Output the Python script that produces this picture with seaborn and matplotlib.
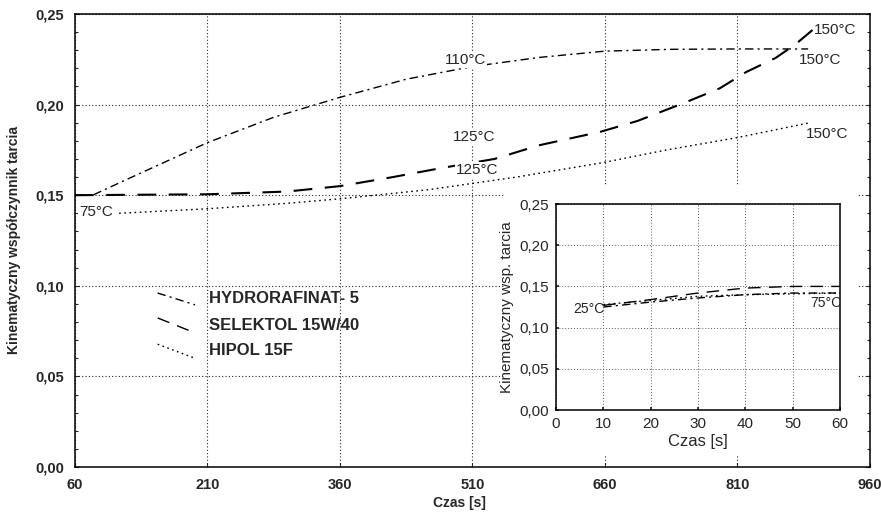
import matplotlib
matplotlib.use('Agg')
import matplotlib.pyplot as plt
import matplotlib.ticker as mticker
from matplotlib.patches import Rectangle
from matplotlib.lines import Line2D
import pandas as pd
import seaborn as sns

# Main chart data (time in s, kinematic friction coefficient)
hydro_t = [60, 80, 120, 165, 210, 285, 360, 435, 510, 585, 660, 735, 810, 890]
hydro_mu = [0.150, 0.150, 0.159, 0.169, 0.179, 0.193, 0.204, 0.214, 0.221, 0.226, 0.2295, 0.2305, 0.2307, 0.2307]

selek_t = [60, 210, 300, 360, 420, 475, 535, 585, 655, 697, 750, 790, 820, 853, 875, 897]
selek_mu = [0.150, 0.1505, 0.152, 0.155, 0.160, 0.165, 0.170, 0.1775, 0.185, 0.191, 0.201, 0.209, 0.218, 0.2257, 0.233, 0.242]

hipol_t = [110, 210, 300, 360, 460, 560, 658, 730, 808, 892]
hipol_mu = [0.140, 0.1425, 0.1455, 0.148, 0.153, 0.160, 0.168, 0.175, 0.1816, 0.190]

# Inset data (first 60 s)
in_t = [10, 20, 30, 40, 50, 60]
in_hydro = [0.125, 0.131, 0.136, 0.140, 0.142, 0.142]
in_selek = [0.127, 0.134, 0.142, 0.148, 0.150, 0.150]
in_hipol = [0.128, 0.133, 0.138, 0.140, 0.141, 0.142]

names = ['HYDRORAFINAT- 5', 'SELEKTOL 15W/40', 'HIPOL 15F']
x_ticks = [60, 210, 360, 510, 660, 810, 960]
y_ticks = [0.00, 0.05, 0.10, 0.15, 0.20, 0.25]
in_x_ticks = [0, 10, 20, 30, 40, 50, 60]

# temperature labels: (text, t, mu)
temp_labels = [('110°C', 502, 0.2246), ('125°C', 512, 0.182), ('125°C', 515, 0.164),
               ('150°C', 921, 0.241), ('150°C', 904, 0.2246), ('150°C', 911, 0.184),
               ('75°C', 84, 0.1407)]

sns.set_theme(style='ticks')
plt.rcParams['font.family'] = ['Liberation Sans', 'DejaVu Sans']

styles = {
    'HYDRORAFINAT- 5': dict(lw=1.0, ls=(0, (6, 3, 1.5, 3))),
    'SELEKTOL 15W/40': dict(lw=1.5, ls=(0, (9, 6))),
    'HIPOL 15F': dict(lw=1.0, ls=(0, (1.2, 2.5))),
}

fig = plt.figure(figsize=(8.81, 5.16), dpi=100)
ax = fig.add_axes([0.0851, 0.0950, 0.9024, 0.8779])

main = {names[0]: (hydro_t, hydro_mu), names[1]: (selek_t, selek_mu), names[2]: (hipol_t, hipol_mu)}
for name, (t, mu) in main.items():
    df = pd.DataFrame({'t': t, 'mu': mu})
    sns.lineplot(data=df, x='t', y='mu', ax=ax, color='black',
                 linewidth=styles[name]['lw'], linestyle=styles[name]['ls'])

ax.set_xlim(60, 960)
ax.set_ylim(0, 0.25)
ax.set_xticks(x_ticks)
ax.set_yticks(y_ticks)
ax.yaxis.set_minor_locator(mticker.MultipleLocator(0.01))
ax.yaxis.set_major_formatter(mticker.FuncFormatter(lambda v, p: f'{v:.2f}'.replace('.', ',')))
ax.grid(True, which='major', color='0.15', linestyle=(0, (1, 2)), linewidth=0.8)
ax.tick_params(which='both', direction='in', right=True, top=False, width=0.8)
ax.tick_params(which='major', length=3, labelsize=10.5, pad=8)
ax.tick_params(which='minor', length=2)
for lbl in ax.get_xticklabels() + ax.get_yticklabels():
    lbl.set_fontweight('bold')
for sp in ax.spines.values():
    sp.set_visible(True)
    sp.set_color('black')
    sp.set_linewidth(1.1)
ax.set_xlabel('')
ax.set_ylabel('Kinematyczny współczynnik tarcia', fontsize=10, fontweight='bold', labelpad=10)
fig.text(0.522, 0.025, 'Czas [s]', ha='center', va='center', fontsize=10, fontweight='bold')

for txt, t, mu in temp_labels:
    ax.text(t, mu, txt, ha='center', va='center', fontsize=11,
            bbox=dict(facecolor='white', edgecolor='none', pad=0.5))

# legend with slanted samples
leg_lines = [((0.104, 0.151), (0.384, 0.358)), ((0.104, 0.151), (0.329, 0.296)),
             ((0.104, 0.151), (0.271, 0.240))]
leg_text_y = [0.371, 0.313, 0.258]
for name, (xs, ys), ty in zip(names, leg_lines, leg_text_y):
    ax.add_line(Line2D(xs, ys, transform=ax.transAxes, color='black',
                       linewidth=1.0, linestyle=styles[name]['ls']))
    ax.text(0.169, ty, name, transform=ax.transAxes, ha='left', va='center',
            fontsize=12, fontweight='bold')

# white area behind inset
fig.add_artist(Rectangle((0.573, 0.118), 0.4007, 0.523, transform=fig.transFigure,
                         facecolor='white', edgecolor='none', zorder=1))

axi = fig.add_axes([0.6311, 0.2054, 0.3224, 0.3992])
axi.set_zorder(2)
inset = {names[0]: in_hydro, names[1]: in_selek, names[2]: in_hipol}
for name, mu in inset.items():
    df = pd.DataFrame({'t': in_t, 'mu': mu})
    sns.lineplot(data=df, x='t', y='mu', ax=axi, color='black',
                 linewidth=1.0, linestyle=styles[name]['ls'])
axi.set_xlim(0, 60)
axi.set_ylim(0, 0.25)
axi.set_xticks(in_x_ticks)
axi.set_yticks(y_ticks)
axi.yaxis.set_major_formatter(mticker.FuncFormatter(lambda v, p: f'{v:.2f}'.replace('.', ',')))
axi.grid(True, color='0.35', linestyle=(0, (1, 2)), linewidth=0.7)
axi.tick_params(direction='in', length=2, labelsize=11, pad=5)
for sp in axi.spines.values():
    sp.set_visible(True)
    sp.set_color('black')
    sp.set_linewidth(1.1)
axi.set_xlabel('Czas [s]', fontsize=12, labelpad=2)
axi.set_ylabel('Kinematyczny wsp. tarcia', fontsize=11, labelpad=4)
axi.text(7.0, 0.1226, '25°C', ha='center', va='center', fontsize=10)
axi.text(56.9, 0.130, '75°C', ha='center', va='center', fontsize=10)

fig.savefig('out.png', dpi=100)
